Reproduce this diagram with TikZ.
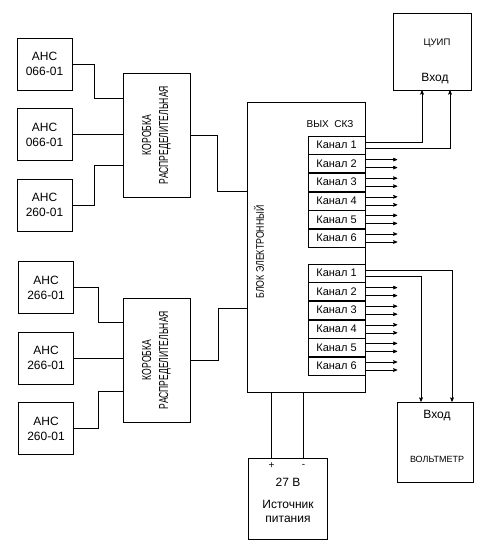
\documentclass[tikz,border=0pt]{standalone}
\usepackage{fontspec}
\setmainfont{Liberation Sans}
\usetikzlibrary{arrows,positioning}

\begin{document}
\begin{tikzpicture}[x=1pt,y=-1pt,>=stealth',semithick,node distance=18pt]
  \tikzstyle{every node}=[inner sep=0pt]
  \tikzstyle{ans}=[draw, minimum width=55pt, minimum height=52pt, align=center,
                   font=\fontsize{12}{15}\selectfont]
  \tikzstyle{korob}=[draw, minimum width=67pt, minimum height=124pt]
  \tikzstyle{kortext}=[rotate=90, align=center, font=\fontsize{13}{17}\selectfont]
  \tikzstyle{kanal}=[draw, minimum width=57pt, minimum height=18pt,
                     font=\fontsize{11}{13}\selectfont]
  \tikzstyle{label}=[font=\fontsize{12}{14}\selectfont]

  \useasboundingbox (0,0) rectangle (493,548);

  % upper group
  \node[ans]   (a1) at (44.5,64)    {АНС\\066-01};
  \node[ans]   (a2) [below=of a1]   {АНС\\066-01};
  \node[ans]   (a3) [below=of a2]   {АНС\\260-01};
  \node[korob] (k1) at (156.5,135)  {};
  \node[kortext] (k1t) at (k1) {\scalebox{0.66}[1]{КОРОБКА}\\\scalebox{0.66}[1]{РАСПРЕДЕЛИТЕЛЬНАЯ}};

  % lower group
  \node[ans]   (a4) at (46,287.5)   {АНС\\266-01};
  \node[ans]   (a5) [below=of a4]   {АНС\\266-01};
  \node[ans]   (a6) [below=of a5]   {АНС\\260-01};
  \node[korob] (k2) at (156.5,360)  {};
  \node[kortext] (k2t) at (k2) {\scalebox{0.66}[1]{КОРОБКА}\\\scalebox{0.66}[1]{РАСПРЕДЕЛИТЕЛЬНАЯ}};

  % electronic block
  \node[draw, minimum width=118pt, minimum height=290pt] (blok) at (306,247) {};
  \node[rotate=90, font=\fontsize{11}{13}\selectfont] (blokt) at (259,252)
       {\scalebox{0.8}[1]{БЛОК ЭЛЕКТРОННЫЙ}};
  \node[font=\fontsize{10}{12}\selectfont] (vyh) at (330,124) {ВЫХ\ \ СКЗ};

  \node[kanal] (c1) at (336.5,145)  {Канал 1};
  \node[kanal] (c2) [below=0pt of c1] {Канал 2};
  \node[kanal] (c3) [below=0pt of c2] {Канал 3};
  \node[kanal] (c4) [below=0pt of c3] {Канал 4};
  \node[kanal] (c5) [below=0pt of c4] {Канал 5};
  \node[kanal] (c6) [below=0pt of c5] {Канал 6};

  \node[kanal] (d1) at (336.5,273)  {Канал 1};
  \node[kanal] (d2) [below=0pt of d1] {Канал 2};
  \node[kanal] (d3) [below=0pt of d2] {Канал 3};
  \node[kanal] (d4) [below=0pt of d3] {Канал 4};
  \node[kanal] (d5) [below=0pt of d4] {Канал 5};
  \node[kanal] (d6) [below=0pt of d5] {Канал 6};

  % devices
  \node[draw, minimum width=78pt, minimum height=77pt] (cuip) at (432,51.5) {};
  \node[font=\fontsize{9.5}{11}\selectfont] (cuipt) at (437,43) {ЦУИП};
  \node[label] (cuipin) at (435,79) {Вход};

  \node[draw, minimum width=76pt, minimum height=80pt] (volt) at (435,442) {};
  \node[label] (voltin) at (437,416) {Вход};
  \node[font=\fontsize{9}{11}\selectfont] (voltt) at (437,459) {ВОЛЬТМЕТР};

  \node[draw, minimum width=79pt, minimum height=81pt] (pwr) at (287.5,498.5) {};
  \node[font=\fontsize{10}{12}\selectfont] (plus) at (271.5,466) {+};
  \node[font=\fontsize{10}{12}\selectfont] (minus) at (303.5,466) {-};
  \node[label] (volts) at (288,482) {27 В};
  \node[label, align=center] (pwrt) at (288,511) {Источник\\питания};

  % wiring
  \draw (a1.east) -- ++(22,0) |- ([yshift=37pt]k1.west);
  \draw (a2.east) -- (a2.east -| k1.west);
  \draw (a3.east) -- ++(22,0) |- ([yshift=-30pt]k1.west);
  \draw (k1.east) -- ++(27,0) |- ([yshift=56pt]blok.west);

  \draw (a4.east) -- ++(24,0) |- ([yshift=38pt]k2.west);
  \draw (a5.east) -- (a5.east -| k2.west);
  \draw (a6.east) -- ++(24,0) |- ([yshift=-31pt]k2.west);
  \draw (k2.east) -- ++(28,0) |- ([yshift=-61pt]blok.west);

  \draw ([xshift=-16pt]pwr.north) -- ([xshift=-16pt]pwr.north |- blok.south);
  \draw ([xshift=16pt]pwr.north) -- ([xshift=16pt]pwr.north |- blok.south);

  \draw[->] ([yshift=3pt]c1.east) -| ([xshift=-10pt]cuip.south);
  \draw[->] ([yshift=-3pt]c1.east) -| ([xshift=18pt]cuip.south);
  \draw[->] ([yshift=3pt]d1.east) -| ([xshift=17pt]volt.north);
  \draw[->] ([yshift=-3pt]d1.east) -| ([xshift=-14pt]volt.north);

  \foreach \ch in {c2,c3,c4,c5,c6,d2,d3,d4,d5,d6} {
    \draw[->] ([yshift=4pt]\ch.east) -- ++(32,0);
    \draw[->] ([yshift=-4pt]\ch.east) -- ++(32,0);
  }
\end{tikzpicture}
\end{document}
